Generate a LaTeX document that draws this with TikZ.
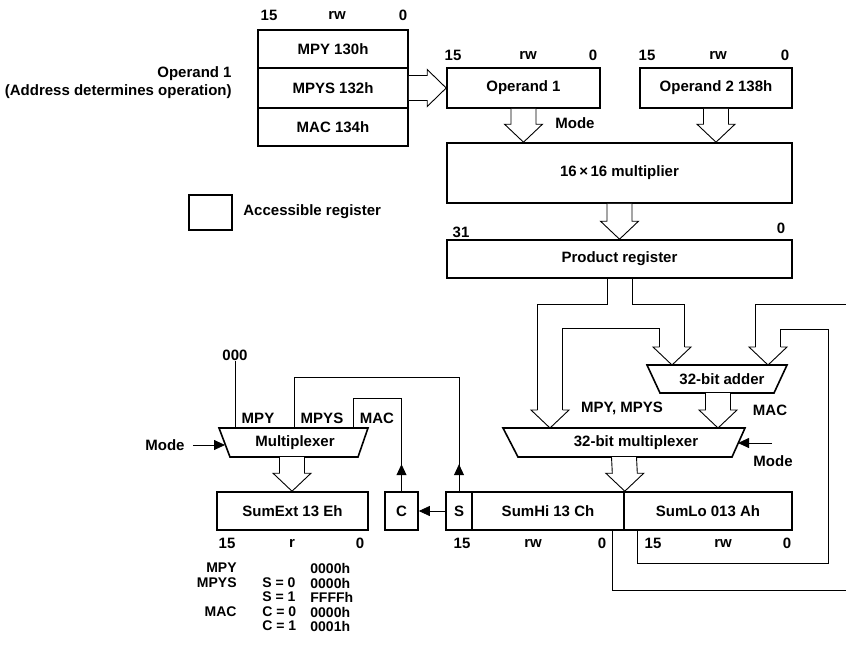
\documentclass[tikz,border=0pt]{standalone}
\usepackage{fontspec}
\setmainfont{Liberation Sans}
\usetikzlibrary{calc,arrows.meta}

\tikzset{every picture/.style={line width=0.8pt}}
\tikzset{
  reg/.style={draw, line width=1.6pt, fill=white, inner sep=0pt},
  lbl/.style={inner sep=0pt},
  small/.style={inner sep=0pt, font=\bfseries\fontsize{14}{16}\selectfont},
  wire/.style={line width=0.8pt},
  pipe/.style={line width=0.9pt, fill=white},
  muxbox/.style={draw, line width=1.6pt, fill=white},
  arr/.style={-{Triangle[length=11pt,width=10pt]}}
}
% hollow arrows: #1 source point, #2 tip point
\newcommand{\pipedown}[2]{%
  \draw[pipe] ($(#2 |- #1)+(-12.5,0)$) -- ($(#2)+(-12.5,-18)$) -- ($(#2)+(-19,-18)$) -- (#2)
    -- ($(#2)+(19,-18)$) -- ($(#2)+(12.5,-18)$) -- ($(#2 |- #1)+(12.5,0)$);}
\newcommand{\piperight}[2]{%
  \draw[pipe] ($(#1 |- #2)+(0,-12.5)$) -- ($(#2)+(-19,-12.5)$) -- ($(#2)+(-19,-18.5)$) -- (#2)
    -- ($(#2)+(-19,18.5)$) -- ($(#2)+(-19,12.5)$) -- ($(#1 |- #2)+(0,12.5)$);}
\newcommand{\headdown}[1]{%
  \draw[pipe] ($(#1)+(-12.5,-18)$) -- ($(#1)+(-19,-18)$) -- (#1) -- ($(#1)+(19,-18)$) -- ($(#1)+(12.5,-18)$);}

\begin{document}
\begin{tikzpicture}[x=1pt,y=1pt,yscale=-1,xscale=1,font=\bfseries\fontsize{15}{18}\selectfont]
\useasboundingbox (0,0) rectangle (846,656);
\clip (0,0) rectangle (846,656);

%Operand 1 address registers
\node[reg, minimum width=150, minimum height=38] (mpy) at (333,49) {MPY 130h};
\node[reg, minimum width=150, minimum height=40] (mpys) at (333,88) {MPYS 132h};
\node[reg, minimum width=150, minimum height=38] (mac) at (333,127) {MAC 134h};
\node[lbl] (mpy15) at (269,15) {15};
\node[lbl] (mpyrw) at (337,15) {rw};
\node[lbl] (mpy0) at (403,15) {0};
\node[lbl, anchor=east, align=right] (opnote) at (232,83) {Operand 1\\(Address determines operation)};

%Operand registers
\node[reg, minimum width=153, minimum height=40] (op1) at (523.5,88) {Operand 1};
\node[reg, minimum width=152, minimum height=40] (op2) at (716,88) {Operand 2 138h};
\node[lbl] (op1b15) at (453,55) {15};
\node[lbl] (op1brw) at (528,55) {rw};
\node[lbl] (op1b0) at (593,55) {0};
\node[lbl] (op2b15) at (647,55) {15};
\node[lbl] (op2brw) at (718,55) {rw};
\node[lbl] (op2b0) at (785,55) {0};
\node[lbl, anchor=west] (mode1) at (555,123) {Mode};

%Multiplier and product
\node[reg, minimum width=345, minimum height=60] (mult) at (619.5,173) {16\,×\,16 multiplier};
\node[reg, minimum width=345, minimum height=38] (prod) at (619.5,259) {Product register};
\node[lbl] (prod31) at (461,232) {31};
\node[lbl] (prod0) at (781,228) {0};

%Legend
\node[reg, minimum width=43, minimum height=35] (legbox) at (210.5,212.5) {};
\node[lbl, anchor=west] (legtext) at (243,212) {Accessible register};

%Multiplexer (SumExt)
\coordinate (muxL-tl) at (219,428);
\coordinate (muxL-tr) at (368,428);
\coordinate (muxL-br) at (358,457);
\coordinate (muxL-bl) at (230,457);
\draw[muxbox] (muxL-tl) -- (muxL-tr) -- (muxL-br) -- (muxL-bl) -- cycle;
\node[lbl] (muxL) at (295,443) {Multiplexer};
\node[lbl] (zero) at (235,355) {000};
\node[lbl] (inMPY) at (258,418) {MPY};
\node[lbl] (inMPYS) at (322,418) {MPYS};
\node[lbl] (inMAC) at (377,418) {MAC};
\node[lbl] (modeL) at (165,445) {Mode};
\coordinate (muxL-in) at (225,445);
\coordinate (muxL-out) at (292,457);
\coordinate (sin) at (294,428);
\coordinate (cin) at (353,428);

%32-bit adder
\coordinate (add-tl) at (647,365);
\coordinate (add-tr) at (787,365);
\coordinate (add-br) at (774,393);
\coordinate (add-bl) at (660,393);
\draw[muxbox] (add-tl) -- (add-tr) -- (add-br) -- (add-bl) -- cycle;
\node[lbl] (adder) at (722,379) {32-bit adder};

%32-bit multiplexer
\coordinate (mux-tl) at (503,428);
\coordinate (mux-tr) at (745,428);
\coordinate (mux-br) at (732,457);
\coordinate (mux-bl) at (518,457);
\draw[muxbox] (mux-tl) -- (mux-tr) -- (mux-br) -- (mux-bl) -- cycle;
\node[lbl] (mux32) at (636,443) {32-bit multiplexer};
\node[lbl] (selA) at (622,408) {MPY, MPYS};
\node[lbl] (selB) at (770,410) {MAC};
\node[lbl] (modeR) at (773,461) {Mode};
\coordinate (modeR-src) at (772,443);
\coordinate (mux-in) at (738,443);

%Result registers
\node[reg, minimum width=151, minimum height=38] (sumext) at (292.5,511) {SumExt 13 Eh};
\node[reg, minimum width=33, minimum height=38] (cbit) at (401.5,511) {C};
\node[reg, minimum width=26, minimum height=38] (sbit) at (459,511) {S};
\node[reg, minimum width=152, minimum height=38] (sumhi) at (548,511) {SumHi 13 Ch};
\node[reg, minimum width=168, minimum height=38] (sumlo) at (708,511) {SumLo 013 Ah};
\node[lbl] (se15) at (227,543) {15};
\node[lbl] (ser) at (292,543) {r};
\node[lbl] (se0) at (360,543) {0};
\node[lbl] (hi15) at (462,543) {15};
\node[lbl] (hirw) at (533,543) {rw};
\node[lbl] (hi0) at (602,543) {0};
\node[lbl] (lo15) at (653,543) {15};
\node[lbl] (lorw) at (723,543) {rw};
\node[lbl] (lo0) at (787,543) {0};

%Table of SumExt contents
\node[small, anchor=east] (tMPY) at (237,568) {MPY};
\node[small, anchor=east] (tMPYS) at (237,583) {MPYS};
\node[small, anchor=east] (tMAC) at (237,612) {MAC};
\node[small, anchor=west] (tS0) at (262,583) {S = 0};
\node[small, anchor=west] (tS1) at (262,597) {S = 1};
\node[small, anchor=west] (tC0) at (262,612) {C = 0};
\node[small, anchor=west] (tC1) at (262,626) {C = 1};
\node[small, anchor=west] (v1) at (310,568) {0000h};
\node[small, anchor=west] (v2) at (310,583) {0000h};
\node[small, anchor=west] (v3) at (310,597) {FFFFh};
\node[small, anchor=west] (v4) at (310,612) {0000h};
\node[small, anchor=west] (v5) at (310,626) {0001h};

%Hollow arrows
\piperight{mpys.east}{op1.west}
\pipedown{op1.south}{op1.south |- mult.north}
\pipedown{op2.south}{op2.south |- mult.north}
\pipedown{mult.south}{prod.north}
\pipedown{muxL-out}{muxL-out |- sumext.north}
\pipedown{add-bl -| 718,0}{718,428}
\pipedown{mux-bl -| 624,0}{sumhi.north east}

%Product register to adder and multiplexer
\coordinate (tipA) at (550,428);
\coordinate (tipB) at (672,365);
\coordinate (tipC) at (768,365);
\draw[pipe, fill=none] ([xshift=-12.5pt]prod.south) -- ++(0,26) -| ($(tipA)+(-12.5,-18)$);
\draw[pipe, fill=none] ($(tipA)+(12.5,-18)$) -- ++(0,-82) -| ($(tipB)+(-12.5,-18)$);
\draw[pipe, fill=none] ([xshift=12.5pt]prod.south) -- ++(0,26) -| ($(tipB)+(12.5,-18)$);
\headdown{tipA}
\headdown{tipB}

%Feedback from SumHi/SumLo to adder
\draw[pipe, fill=none] ([xshift=12.5pt]sumhi.south east) -- ++(0,33) -| ++(191,-234) -| ($(tipC)+(12.5,-18)$);
\draw[pipe, fill=none] ([xshift=-12.5pt]sumhi.south east) -- ++(0,60) -| ++(250,-286) -| ($(tipC)+(-12.5,-18)$);
\headdown{tipC}

%Multiplexer inputs
\draw[wire] (zero.south) -- (zero.south |- muxL-tl);
\draw[wire] (sbit.north) -- ++(0,-114) -| (sin);
\draw[wire, arr] (sbit.north) -- ++(0,-27);
\draw[wire] (cbit.north) -- ++(0,-93) -| (cin);
\draw[wire, arr] (cbit.north) -- ++(0,-27);
\draw[wire, arr] (sbit.west) -- (cbit.east);
\draw[wire, arr] ([xshift=8pt]modeL.east) -- (muxL-in);
\draw[wire, arr] (modeR-src) -- (mux-in);

\end{tikzpicture}
\end{document}
